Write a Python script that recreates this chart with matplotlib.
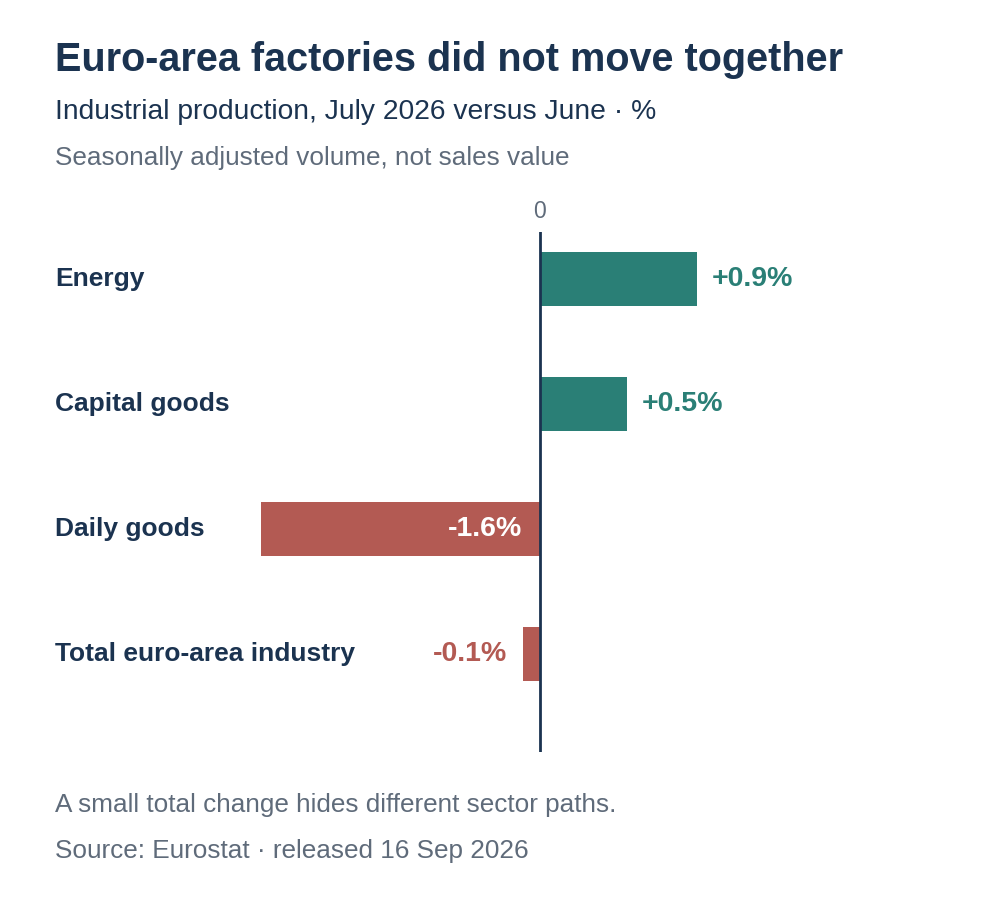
import matplotlib
matplotlib.use('Agg')
import matplotlib.pyplot as plt

sectors = ["Energy", "Capital goods", "Daily goods", "Total euro-area industry"]
changes = [0.9, 0.5, -1.6, -0.1]
labels = ["+0.9%", "+0.5%", "-1.6%", "-0.1%"]

teal = '#2a7f76'
red = '#b35a53'
navy = '#1b3350'
grey = '#5f6b7a'

plt.rcParams['font.family'] = ['Liberation Sans', 'DejaVu Sans']

fig = plt.figure(figsize=(10, 9), dpi=100)
# axes spans full width; zero at x=540px, 174.4 px per 1%
ax = fig.add_axes([0, 1 - 752 / 900, 1, (752 - 232) / 900])
ppu = 174.4
ax.set_xlim(-540 / ppu, 460 / ppu)
ax.set_ylim(3 + 98 / 125, -47 / 125)
ax.axis('off')

ys = range(len(sectors))
colors = [teal if v > 0 else red for v in changes]
ax.barh(ys, changes, height=54 / 125, color=colors)
ax.axvline(0, color=navy, lw=2)

for y, v, lab, c in zip(ys, changes, labels, colors):
    if v > 0:
        ax.text(v + 15 / ppu, y, lab, color=c, fontsize=20.5, fontweight='bold', va='center', ha='left')
    elif abs(v) > 0.5:
        ax.text(-18 / ppu, y, lab, color='white', fontsize=20.5, fontweight='bold', va='center', ha='right')
    else:
        ax.text(v - 15 / ppu, y, lab, color=c, fontsize=20.5, fontweight='bold', va='center', ha='right')
    ax.text(55 / 1000, y, sectors[y], transform=ax.get_yaxis_transform(), color=navy,
            fontsize=19, fontweight='bold', va='center', ha='left')

fig.text(540 / 1000, 1 - 212 / 900, "0", color=grey, fontsize=16.5, ha='center', va='center')

fig.text(0.055, 1 - 60 / 900, "Euro-area factories did not move together", color=navy,
         fontsize=28.5, fontweight='bold', va='center')
fig.text(0.055, 1 - 112 / 900, "Industrial production, July 2026 versus June · %", color=navy,
         fontsize=20.3, va='center')
fig.text(0.055, 1 - 158 / 900, "Seasonally adjusted volume, not sales value", color=grey,
         fontsize=18.8, va='center')
fig.text(0.055, 1 - 805 / 900, "A small total change hides different sector paths.", color=grey,
         fontsize=18.8, va='center')
fig.text(0.055, 1 - 851 / 900, "Source: Eurostat · released 16 Sep 2026", color=grey,
         fontsize=18.8, va='center')

fig.savefig('out.png', dpi=100, facecolor='white')
